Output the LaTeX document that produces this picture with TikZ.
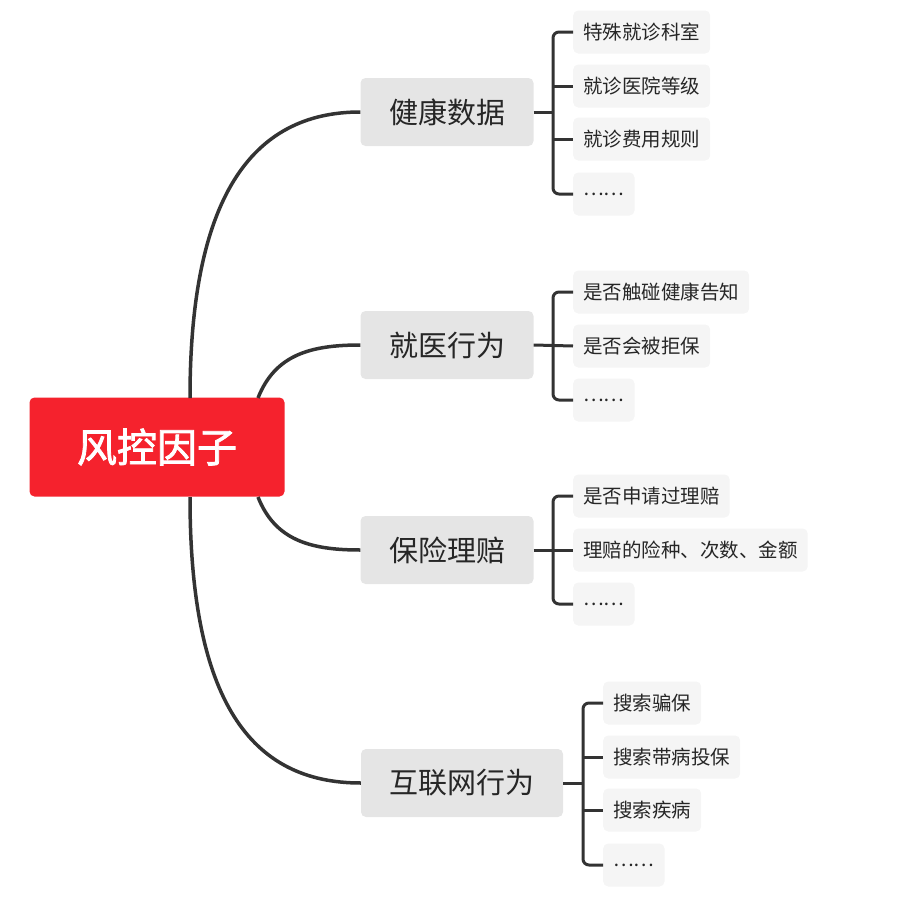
\documentclass[tikz,border=0pt]{standalone}
\usepackage{fontspec}
\setmainfont{Noto Sans CJK SC}
\newfontfamily\boldcjk[FakeBold=2]{Noto Sans CJK SC}
\usetikzlibrary{positioning}
\definecolor{rootred}{HTML}{F5222D}
\definecolor{linegray}{HTML}{333333}
\tikzset{
    x=1pt,y=-1pt,
    root/.style={fill=rootred,rounded corners=5pt,text=white,minimum width=255pt,minimum height=99pt,font=\boldcjk\fontsize{40}{40}\selectfont},
    topic/.style={fill=black!10,rounded corners=5pt,text=black!85,minimum height=68pt,inner xsep=20pt,font=\fontsize{29}{29}\selectfont},
    leaf/.style={fill=black!4,rounded corners=5pt,text=black!85,minimum height=43pt,inner xsep=10pt,font=\fontsize{19.5}{19.5}\selectfont,anchor=west},
    link/.style={draw=linegray,line width=3.5pt},
    brace/.style={draw=linegray,line width=3pt,rounded corners=6pt}
}
\begin{document}
\begin{tikzpicture}
    \useasboundingbox (0,0) rectangle (903,897);

    \node[root] (risk) at (157,447) {风控因子};

    \node[topic,minimum width=173pt] (health) at (447,112) {健康数据};
    \node[topic,minimum width=173pt] (visit) at (447,345) {就医行为};
    \node[topic,minimum width=173pt] (claim) at (447,550) {保险理赔};
    \node[topic,minimum width=202pt] (web) at (462,783) {互联网行为};

    % main branches
    \draw[link] (190,398) .. controls (190,200) and (250,112) .. (health.west);
    \draw[link] (258,398) .. controls (275,355) and (310,345) .. (visit.west);
    \draw[link] (258,497) .. controls (275,540) and (310,550) .. (claim.west);
    \draw[link] (190,497) .. controls (190,700) and (250,783) .. (web.west);

    % health leaves
    \node[leaf] (h1) at (573,32) {特殊就诊科室};
    \node[leaf] (h2) at (573,86) {就诊医院等级};
    \node[leaf] (h3) at (573,139) {就诊费用规则};
    \node[leaf] (h4) at (573,194) {……};
    \draw[brace] (h1.west) -- (553,32) -- (553,194) -- (h4.west);
    \draw[brace] (health.east) -- (553,112);
    \draw[brace] (553,86) -- (h2.west);
    \draw[brace] (553,139) -- (h3.west);

    % visit leaves
    \node[leaf] (v1) at (573,292) {是否触碰健康告知};
    \node[leaf] (v2) at (573,346) {是否会被拒保};
    \node[leaf] (v3) at (573,400) {……};
    \draw[brace] (v1.west) -- (553,292) -- (553,400) -- (v3.west);
    \draw[brace] (visit.east) -- (v2.west);

    % claim leaves
    \node[leaf] (c1) at (573,496) {是否申请过理赔};
    \node[leaf] (c2) at (573,550) {理赔的险种、次数、金额};
    \node[leaf] (c3) at (573,604) {……};
    \draw[brace] (c1.west) -- (553,496) -- (553,604) -- (c3.west);
    \draw[brace] (claim.east) -- (c2.west);

    % web leaves
    \node[leaf] (w1) at (603,703) {搜索骗保};
    \node[leaf] (w2) at (603,757) {搜索带病投保};
    \node[leaf] (w3) at (603,810) {搜索疾病};
    \node[leaf] (w4) at (603,865) {……};
    \draw[brace] (w1.west) -- (583,703) -- (583,865) -- (w4.west);
    \draw[brace] (web.east) -- (583,783);
    \draw[brace] (583,757) -- (w2.west);
    \draw[brace] (583,810) -- (w3.west);
\end{tikzpicture}
\end{document}
